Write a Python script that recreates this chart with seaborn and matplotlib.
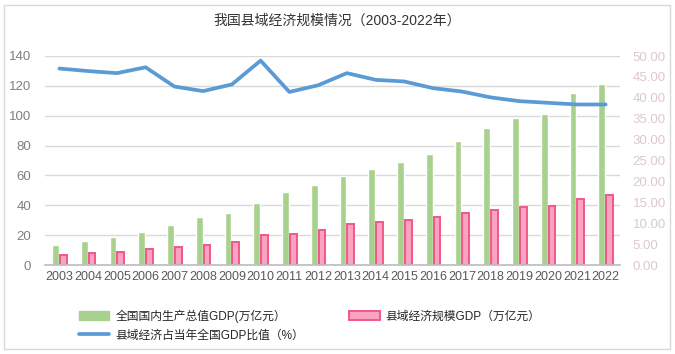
import matplotlib
matplotlib.use("Agg")
import matplotlib.pyplot as plt
from matplotlib.patches import Rectangle, Patch
from matplotlib.lines import Line2D
from matplotlib.ticker import FormatStrFormatter
import seaborn as sns
import pandas as pd
import numpy as np

years = [str(y) for y in range(2003, 2023)]
national_gdp = [13.7, 16.2, 18.7, 21.9, 27.0, 31.9, 34.9, 41.2, 48.8, 53.9,
                59.3, 64.4, 68.9, 74.6, 83.2, 91.9, 98.7, 101.4, 114.9, 121.0]
county_gdp = [6.4, 8.0, 8.9, 10.9, 12.0, 13.4, 15.6, 20.3, 20.8, 23.6,
              27.5, 28.8, 30.1, 32.1, 34.8, 36.8, 38.8, 39.7, 44.2, 46.9]
county_share = [47.0, 46.4, 45.9, 47.3, 42.7, 41.6, 43.2, 48.9, 41.4, 43.0,
                45.9, 44.3, 43.9, 42.3, 41.5, 40.1, 39.2, 38.8, 38.4, 38.4]

name_gdp = "全国国内生产总值GDP(万亿元）"
name_county = "县域经济规模GDP（万亿元）"
name_share = "县域经济占当年全国GDP比值（%）"
title = "我国县域经济规模情况（2003-2022年）"

GREEN = "#A9D18E"
PINK = "#F9A3C0"
PINK_EDGE = "#F2578A"
BLUE = "#5B9BD5"

sns.set_theme(style="white")
plt.rcParams["font.family"] = ["Liberation Sans", "Noto Sans CJK SC", "DejaVu Sans"]

df = pd.DataFrame({
    "year": years * 2,
    "value": national_gdp + county_gdp,
    "series": [name_gdp] * len(years) + [name_county] * len(years),
})

fig = plt.figure(figsize=(6.75, 3.54), dpi=100)
ax = fig.add_axes([45 / 675, 1 - 265 / 354, 575 / 675, 209 / 354])

sns.barplot(data=df, x="year", y="value", hue="series",
            palette=[GREEN, PINK], width=0.55, gap=0.15,
            saturation=1, legend=False, ax=ax)
for bar in ax.containers[1]:
    bar.set_edgecolor(PINK_EDGE)
    bar.set_linewidth(1.4)

ax.set_ylim(0, 140)
ax.set_yticks(range(0, 141, 20))
ax.set_xlim(-0.5, len(years) - 0.5)
ax.yaxis.grid(True, color="#D9D9D9", linewidth=1)
ax.set_axisbelow(True)
ax.set_xlabel("")
ax.set_ylabel("")
for s in ["top", "right", "left"]:
    ax.spines[s].set_visible(False)
ax.spines["bottom"].set_color("#BFBFBF")
ax.tick_params(axis="y", length=0, labelsize=9.5, labelcolor="#7F7F7F", pad=10)
ax.tick_params(axis="x", length=0, labelsize=9, labelcolor="#595959", pad=4)

ax2 = ax.twinx()
sns.lineplot(x=np.arange(len(years)), y=county_share, ax=ax2,
             color=BLUE, linewidth=2.7, solid_joinstyle="round",
             solid_capstyle="round")
ax2.set_ylim(0, 50)
ax2.set_yticks(np.arange(0, 50.1, 5))
ax2.yaxis.set_major_formatter(FormatStrFormatter("%.2f"))
ax2.tick_params(axis="y", length=0, labelsize=9.5, labelcolor="#DCC8CF", pad=9)
for s in ax2.spines.values():
    s.set_visible(False)
ax2.set_ylabel("")

fig.text(337 / 675, 1 - 21 / 354, title, ha="center", va="center",
         fontsize=10, color="#333333")

handles = [Patch(facecolor=GREEN, edgecolor=GREEN),
           Line2D([0], [0], color=BLUE, linewidth=2.7),
           Patch(facecolor=PINK, edgecolor=PINK_EDGE, linewidth=1.4)]
labels = [name_gdp, name_share, name_county]
fig.legend(handles, labels, loc="upper left", bbox_to_anchor=(68 / 675, 1 - 299 / 354),
           ncol=2, frameon=False, fontsize=8.5, handlelength=2.6,
           handleheight=0.8, columnspacing=3.8, labelspacing=0.55,
           handletextpad=0.5, labelcolor="#262626")

fig.patches.append(Rectangle((4 / 675, 5 / 354), 666 / 675, 344 / 354,
                             transform=fig.transFigure, fill=False,
                             edgecolor="#D9D9D9", linewidth=1))

fig.savefig("out.png", dpi=100)
